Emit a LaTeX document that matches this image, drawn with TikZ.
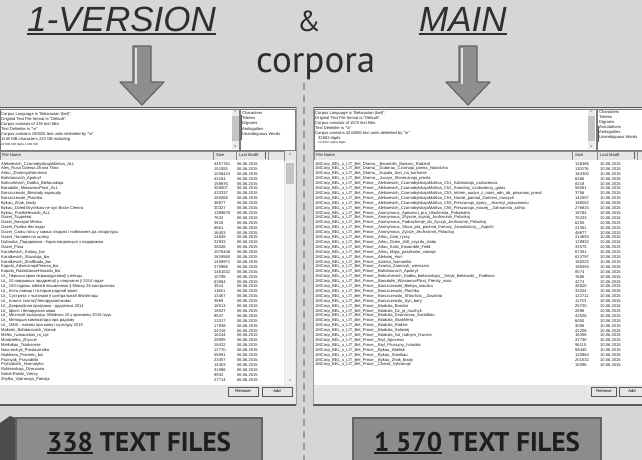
\documentclass[tikz,border=0pt]{standalone}
\usepackage{fontspec}
\setmainfont{Liberation Sans}
\newfontfamily\headfont{PT Sans}
\definecolor{bg}{HTML}{D6D6D6}
\definecolor{panel}{HTML}{E6E6E6}
\definecolor{frame}{HTML}{5A5A5A}
\definecolor{thumb}{HTML}{C4C4C4}
\definecolor{ink}{HTML}{1E1E1E}
\definecolor{arrowfill}{HTML}{8E8E8E}
\definecolor{arrowline}{HTML}{666666}
\definecolor{boxfill}{HTML}{8C8C8C}
\definecolor{boxline}{HTML}{626262}
\definecolor{dashgray}{HTML}{9C9C9C}
\definecolor{headink}{HTML}{2E2E2E}
% thick underline that keeps the word's width
\newcommand\thickul[2][2pt]{\setbox0\hbox{#2}\rlap{\rule[-3.2pt]{\wd0}{#1}}\box0\relax}
\tikzset{
  cell/.style={inner sep=0pt, anchor=west, text=ink, font=\fontsize{4.1}{4.5}\selectfont},
  hdr/.style={draw=frame!70, line width=0.4pt, fill=panel},
  whitebox/.style={fill=white, draw=frame!80, line width=0.5pt},
  btn/.style={draw=frame, line width=0.5pt, fill=panel, inner sep=0pt, font=\fontsize{4.1}{4.5}\selectfont},
  bigarrow/.style={fill=arrowfill, draw=arrowline, line width=1.2pt, line join=round},
  countbox/.style={fill=boxfill, draw=boxline, line width=2.5pt},
  counttext/.style={inner sep=0pt, text=ink, font=\headfont\bfseries\fontsize{27}{28}\selectfont},
  titletext/.style={inner sep=0pt, text=headink, font=\itshape\fontsize{35}{37}\selectfont},
}
\begin{document}
\begin{tikzpicture}[x=1pt,y=-1pt]
\useasboundingbox (0,0) rectangle (642,460);
\fill[bg] (0,0) rectangle (642,460);

% ---------- headline ----------
\node[titletext, anchor=base west] (ver) at (27,32) {\thickul{1-VERSION}};
\node[titletext, font=\headfont\fontsize{29}{30}\selectfont, anchor=base] (amp) at (309,32) {\&};
\node[titletext, anchor=base west] (main) at (419,32) {\thickul{MAIN}};
\node[titletext, font=\headfont\fontsize{37}{38}\selectfont, anchor=base west] (corp) at (256,72) {corpora};

% ---------- down arrows ----------
\foreach \c/\nm in {142/arL, 468/arR}{
  \draw[bigarrow] (\c-9,46) -- (\c+9,46) -- (\c+9,82) -- (\c+22,82) -- (\c,105)
        -- (\c-22,82) -- (\c-9,82) -- cycle;
  \draw[white!75!arrowfill, line width=1.5pt] (\c-6,48) -- (\c-6,84);
  \coordinate (\nm) at (\c,105);
}

% ---------- separator ----------
\coordinate (sepT) at (304,83);
\coordinate (sepB) at (304,460);
\draw[dashgray, line width=2.4pt, dash pattern=on 7pt off 5pt] (sepT) -- (sepB);

% ---------- left window ----------
\fill[panel] (0,107) rectangle (296,405);
\draw[frame, line width=1pt] (0,107) -- (296,107);
\draw[frame, line width=1.5pt] (0,405) -- (296,405);
\draw[frame!60, line width=0.6pt] (296,107) -- (296,405);
% info text
\draw[whitebox] (0,109) rectangle (239,150);
\foreach \t [count=\i from 0] in {Corpus Language is "Belarusian (bel)".,
  Original Text File format is "Default".,
  Corpus consists of 338 text files,
  Text Delimiter is "\textbackslash n",
  Corpus contains 190026 text units delimited by "\textbackslash n",
  1240 MB characters 223 GB including}{
  \node[cell] (li\i) at (1,114+\i*5) {\t};
}
\node[cell, font=\fontsize{3}{3}\selectfont] (li6) at (1,145) {22 000 000 digits 4 000 000};
\fill[white!92!black] (232,110) rectangle (239,149);
\fill[thumb] (232,116) rectangle (239,141);
\node[cell, font=\fontsize{3.5}{4}\selectfont, anchor=center] (lup) at (235.5,112) {\textasciicircum};
\node[cell, font=\fontsize{3.5}{4}\selectfont, anchor=center] (ldn) at (235.5,147) {v};
\draw[whitebox] (240,109) rectangle (295,150);
\foreach \t [count=\i from 0] in {Characters, Tokens, Digrams, Ambiguities, Unambiguous Words}{
  \node[cell] (ll\i) at (242,113+\i*5.4) {\t};
}
\draw[frame, line width=0.5pt] (241,115) -- (241,140);
% header
\draw[hdr] (0,151) rectangle (213,160);
\draw[hdr] (213,151) rectangle (236,160);
\draw[hdr] (236,151) rectangle (268,160);
\draw[hdr] (268,151) rectangle (284,160);
\node[cell] (lhn) at (2,155.5) {File Name};
\node[cell] (lhs) at (216,155.5) {Size};
\node[cell] (lhd) at (239,155.5) {Last Modif.};
\draw[frame, line width=0.4pt] (265,152) -- (265,159);
% list
\fill[white] (0,160) rectangle (284,385);
\fill[white!94!black] (285,160) rectangle (295,385);
\node[cell, anchor=center] (lsu) at (290,155.5) {\textasciicircum};
\fill[thumb] (286,163) rectangle (294,184);
\node[cell, anchor=center, font=\fontsize{3}{3}\selectfont] (lsd) at (290,381) {v};
\foreach \nm/\sz [count=\i from 0] in {
 Aleksievich\_CzarnobylskajaMalitva\_ALL/4457761,
 Ales\_Rusa Dziewa Zhana Tkno/151555,
 Arlou\_ZhmenyaNeruhom/1036424,
 Bahdanovich\_Apokryf/43154,
 Bahushevich\_Dudka\_Bielaruskaja/159876,
 Baradulin\_MiasamovPlast\_ALL/305007,
 Barszczeuski\_Biesiady sapraudy/433337,
 Barszczeuski\_Plachka/180068,
 Bykau\_Znak\_biady/38877,
 Bykau\_Dzied Bryshkaw ne syn Bocie Ciemra/30327,
 Bykau\_PustkiHessisb\_ALL/1389678,
 Gazet\_Тыднёвік/7632,
 Gazet\_Вячэрні Менск/3818,
 Gazet\_Рыбка без вады/6661,
 Gazet\_Самы голы у самых людзях і набліжэнні да літаратуры/16453,
 Gazet\_Чалавек на шляху/14828,
 Dubouka\_Падарожжа - Карэспандэнцыя з падарожжа/22933,
 Gazet\_Рэха/38026,
 Karatkevich\_Kalasy\_bw/1076446,
 Karatkevich\_Slavutaja\_bw/1619560,
 Karatkevich\_ZhalBiada\_bw/1409971,
 Kupala\_AdvecznajaPiesnia\_bw/270968,
 Kupala\_RaskidanaeHniazdo\_bw/1461532,
 Lit\_ Першыя крокі першакурснікаў у вёсцы/10798,
 Lit\_ 10 навуковых прадметаў у навучанні ў 2014 годзе/63064,
 Lit\_ 100-гадовы юбілей пісьменніка ў Мінску 26 кастрычніка/3514,
 Lit\_ Кніга памяці і гісторыя роднай зямлі/11861,
 Lit\_ Сустрэча з чытачамі ў цэнтральнай бібліятэцы/13467,
 Lit\_ Аналіз тэкстаў беларускай мовы/3869,
 Lit\_ Дзяржаўная праграма - дадзеныя 2014/16013,
 Lit\_ Iфонт і беларуская мова/18527,
 Lit\_ Microsoft выпусціць Windows 10 у красавіку 2015 года/9547,
 Lit\_ Мелодыя кампазітара пра радзіму/13317,
 Lit\_ 1МАІ - навіны пра мову і культуру 2015/17938,
 Maksim\_Bahdanovich\_Vianok/24318,
 Melez\_Ivanauskas\_Ia\_Lpi/16244,
 Miadzielka\_Zhyccie/29905,
 Mielnikau\_Tsiaharmie/18432,
 Navumchyk\_Prasiaviestka/12770,
 Niakliaeu\_Pramien\_bw/55091,
 Paznyak\_Pravadniki/23457,
 Pryhodzich\_Hramatyka/14403,
 Rubleuskaja\_Dzeusana/31086,
 Sokal-Rutski\_Viersy/9932,
 Zhylka\_Vybranaja\_Paezija/27714}{
  \node[cell] (lf\i) at (1,164+\i*4.9) {\nm};
  \node[cell] (ls\i) at (214,164+\i*4.9) {\sz};
  \node[cell] (ld\i) at (237,164+\i*4.9) {06.06.2015};
}
\node[btn, minimum width=30pt, minimum height=9pt] (lrem) at (243,391.5) {Remove};
\node[btn, minimum width=30pt, minimum height=9pt, line width=0.9pt] (ladd) at (277,391.5) {Add};

% ---------- right window ----------
\fill[panel] (313,107) rectangle (642,405);
\draw[frame, line width=1pt] (313,107) -- (642,107);
\draw[frame, line width=1.5pt] (313,405) -- (642,405);
\draw[frame!60, line width=0.6pt] (313,107) -- (313,405);
\draw[whitebox] (314,109) rectangle (596,150);
\foreach \t [count=\i from 0] in {Corpus Language is "Belarusian (bel)".,
  Original Text File format is "Default".,
  Corpus consists of 1570 text files,
  Text Delimiter is "\textbackslash n",
  Corpus contains 4242690 text units delimited by "\textbackslash n"}{
  \node[cell] (ri\i) at (315,113+\i*5) {\t};
}
\node[cell] (ri5) at (318,138) {32682 digits};
\node[cell, font=\fontsize{3}{3}\selectfont] (ri6) at (318,143) {1172207 alpha-digits};
\fill[white!92!black] (588,110) rectangle (595,149);
\fill[thumb] (588,116) rectangle (595,141);
\node[cell, font=\fontsize{3.5}{4}\selectfont, anchor=center] (rup) at (591.5,112) {\textasciicircum};
\node[cell, font=\fontsize{3.5}{4}\selectfont, anchor=center] (rdn) at (591.5,147) {v};
\draw[whitebox] (597,109) rectangle (645,150);
\foreach \t [count=\i from 0] in {Characters, Tokens, Digrams, Annotations, Ambiguities, Unambiguous Words}{
  \node[cell] (rl\i) at (599,112.5+\i*5) {\t};
}
\draw[frame, line width=0.5pt] (598,126) -- (598,142);
\draw[hdr] (314,151) rectangle (572,160);
\draw[hdr] (572,151) rectangle (597,160);
\draw[hdr] (597,151) rectangle (637,160);
\draw[hdr] (637,151) rectangle (645,160);
\node[cell] (rhn) at (316,155.5) {File Name};
\node[cell] (rhs) at (575,155.5) {Size};
\node[cell] (rhd) at (600,155.5) {Last Modif.};
\draw[frame, line width=0.4pt] (634,152) -- (634,159);
\fill[white] (314,160) rectangle (642,385);
\foreach \nm/\sz [count=\i from 0] in {
 Drama\_\_Baradulin\_Barkaru\_Radzivil/126386,
 Drama\_\_Dudarau\_Czornaja\_panna\_Niasvizha/110076,
 Drama\_\_Kupala\_Son\_na\_kurhanie/184300,
 Drama\_\_Juczyn\_Slonecznaja\_prosta/6266,
 Prose\_\_Aleksievich\_CzarnobylskajaMalitva\_Ch1\_Adzinokaja\_czalaviecza/8218,
 Prose\_\_Aleksievich\_CzarnobylskajaMalitva\_Ch2\_Samotny\_czalavieczy\_golas/55061,
 Prose\_\_Aleksievich\_CzarnobylskajaMalitva\_Ch3\_Inform\_audyn\_z\_nami\_adn\_ab\_pirsanaw\_pravd/3756,
 Prose\_\_Aleksievich\_CzarnobylskajaMalitva\_Ch4\_Naviat\_pamiat\_Zamiest\_naszych/142557,
 Prose\_\_Aleksievich\_CzarnobylskajaMalitva\_Ch5\_Pieszanaja\_apory\_\_vhannyi\_pravaianniu/186052,
 Prose\_\_Aleksievich\_CzarnobylskajaMalitva\_Ch6\_Pieszanaja\_maciej\_\_Zahnannia\_zalhiu/276815,
 Prose\_\_Anonymous\_Apovesci\_pra\_Uladzimira\_Polackaha/18764,
 Prose\_\_Anonymous\_Zhyccie\_svjatoj\_Jeufrasinni\_Polackaj/76233,
 Prose\_\_Anonymous\_Padrazhenje\_do\_Zyccja\_Jeufrasinni\_Polackaj/6250,
 Prose\_\_Anonymous\_Slova\_pra\_pachod\_Ihoravy\_Jaraslaviczy\_\_Aupchi/21351,
 Prose\_\_Anonymous\_Zyccje\_Jeufrasinni\_Polackaj/48877,
 Prose\_\_Arlou\_Dzie\_ryczy/214655,
 Prose\_\_Arlou\_Dzien\_Zoll\_czyzdu\_slodu/128932,
 Prose\_\_Arlou\_Kalis\_Ensamble\_Field/33575,
 Prose\_\_Arlou\_Majja\_paszkanie\_vainaja/67451,
 Prose\_\_Aleksiej\_Hart/613797,
 Prose\_\_Azarka\_Namanilia/150223,
 Prose\_\_Azarka\_Zamczyk\_wierszam/188394,
 Prose\_\_Bahdanovich\_Apokryf/8074,
 Prose\_\_Bahushevich\_Dudka\_bielaruskaja\_\_Smyk\_bielaruski\_\_Padkova/7686,
 Prose\_\_Baradulin\_WiasamovPlast\_Piersty\_nasz/4274,
 Prose\_\_Barszczeuski\_Bielaja\_siaczka/38520,
 Prose\_\_Barszczeuski\_Plachka/33204,
 Prose\_\_Barszczeuski\_Shlachcic\_\_Zavalnia/122711,
 Prose\_\_Barszczeuski\_Syn\_bory/11753,
 Prose\_\_Biadulia\_Bondar/25720,
 Prose\_\_Biadulia\_Dz\_ja\_muzhyk/2696,
 Prose\_\_Biadulia\_Dvanaccac\_koziolkau/42526,
 Prose\_\_Biadulia\_Skakhfeta/6000,
 Prose\_\_Biadulia\_Radzie/3006,
 Prose\_\_Biadulia\_Salaviej/41208,
 Prose\_\_Biadulia\_Na\_rodnym\_hruncie/18356,
 Prose\_\_Bryl\_Apovesci/22730,
 Prose\_\_Bryl\_Ptuszyny\_hniazda/96115,
 Prose\_\_Bykau\_Abelisk/58440,
 Prose\_\_Bykau\_Sotnikau/120964,
 Prose\_\_Bykau\_Znak\_biady/201532,
 Prose\_\_Charot\_Vybranaje/15096}{
  \node[cell] (rf\i) at (315,164+\i*4.9) {1MCorp\_BEL\_s\_LIT\_Bel\_\nm};
  \node[cell] (rs\i) at (575,164+\i*4.9) {\sz};
  \node[cell] (rd\i) at (600,164+\i*4.9) {10.06.2015};
}
\node[btn, minimum width=25pt, minimum height=9pt] (rrem) at (604,391.5) {Remove};
\node[btn, minimum width=25pt, minimum height=9pt] (radd) at (632,391.5) {Add};

% ---------- file counts ----------
\fill[black!70] (0,423) -- (10,416) -- (16,418) -- (16,460) -- (0,460) -- cycle;
\draw[countbox] (16,418) rectangle (262,468);
\draw[countbox] (353,418) rectangle (601,468);
\node[counttext, anchor=base] (cL) at (139,451) {\thickul{338} TEXT FILES};
\node[counttext, anchor=base] (cR) at (477,451) {\thickul{1 570} TEXT FILES};
\end{tikzpicture}
\end{document}
